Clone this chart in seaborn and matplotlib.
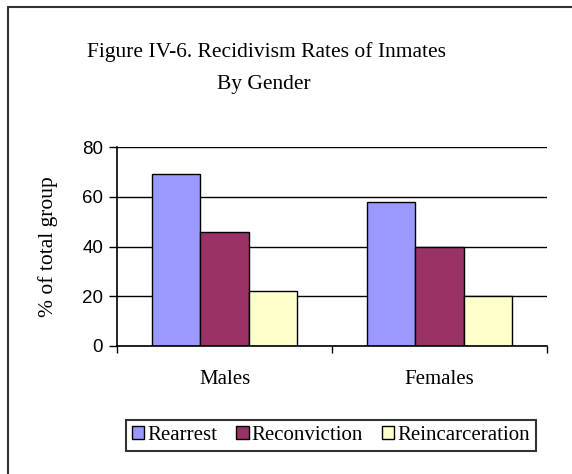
"""
Recidivism rates of inmates by gender - grouped bar chart.
"""

import pandas as pd
import matplotlib.pyplot as plt
import seaborn as sns
from matplotlib.lines import Line2D

genders = ["Males", "Females"]
measures = ["Rearrest", "Reconviction", "Reincarceration"]
rearrest = [69, 58]
reconviction = [46, 40]
reincarceration = [22, 20]
colors = ["#9999FF", "#993366", "#FFFFCC"]
y_ticks = [0, 20, 40, 60, 80]

SERIF = ["Liberation Serif", "DejaVu Serif"]
SANS = ["Liberation Sans", "DejaVu Sans"]


def make_chart():
    rows = []
    for name, vals in zip(measures, [rearrest, reconviction, reincarceration]):
        for g, v in zip(genders, vals):
            rows.append({"Gender": g, "Measure": name, "Percent": v})
    df = pd.DataFrame(rows)

    sns.set_style("white", {"text.color": "black", "axes.labelcolor": "black",
                            "xtick.color": "black", "ytick.color": "black"})
    fig = plt.figure(figsize=(5.72, 4.74), dpi=100)
    ax = fig.add_axes([117 / 572, 1 - 346 / 474, 430 / 572, 199 / 474])

    sns.barplot(data=df, x="Gender", y="Percent", hue="Measure", order=genders,
                hue_order=measures, palette=colors, width=0.67, gap=0,
                edgecolor="black", linewidth=1, saturation=1, ax=ax)

    ax.set_ylim(0, 80)
    ax.set_xlim(-0.5, 1.5)
    ax.set_yticks(y_ticks)
    ax.set_yticklabels([str(t) for t in y_ticks], fontfamily=SANS, fontsize=13.5)
    ax.yaxis.grid(True, color="black", linewidth=1)
    ax.set_axisbelow(True)
    ax.tick_params(axis="y", left=True, direction="out", length=6, width=1,
                   color="black", pad=4)

    ax.set_xticks([0, 1])
    ax.set_xticklabels(genders, fontfamily=SERIF, fontsize=15)
    ax.set_xticks([-0.5, 0.5, 1.5], minor=True)
    ax.tick_params(axis="x", which="major", bottom=True, length=0, pad=17)
    ax.tick_params(axis="x", which="minor", bottom=True, direction="out", length=5,
                   width=1, color="black")

    for side in ["top", "right"]:
        ax.spines[side].set_visible(False)
    for side in ["left", "bottom"]:
        ax.spines[side].set_color("black")
        ax.spines[side].set_linewidth(1.2)

    ax.set_xlabel("")
    ax.set_ylabel("% of total group", fontfamily=SERIF, fontsize=15.5, color="black")
    ax.yaxis.set_label_coords(-0.137, 0.5)

    ax.get_legend().remove()
    handles = [plt.Rectangle((0, 0), 1, 1, facecolor=c, edgecolor="black", linewidth=1)
               for c in colors]
    leg = fig.legend(handles, measures, loc="center", bbox_to_anchor=(331 / 572, 1 - 435.5 / 474),
                     ncol=3, frameon=True, fancybox=False, handlelength=0.6, handleheight=0.6,
                     handletextpad=0.15, columnspacing=0.9, borderpad=0.3,
                     prop={"family": SERIF, "size": 15})
    leg.get_frame().set_edgecolor("black")
    leg.get_frame().set_linewidth(1.5)

    fig.text(266.5 / 572, 1 - 52 / 474, "Figure IV-6. Recidivism Rates of Inmates",
             ha="center", va="center", fontfamily=SERIF, fontsize=15.5, color="black")
    fig.text(264 / 572, 1 - 85 / 474, "By Gender",
             ha="center", va="center", fontfamily=SERIF, fontsize=15.5, color="black")

    # outer chart border (left and top edges visible)
    fig.add_artist(Line2D([8 / 572, 8 / 572], [0, 1 - 7 / 474], transform=fig.transFigure,
                          color="#333333", linewidth=1.5))
    fig.add_artist(Line2D([8 / 572, 1], [1 - 7 / 474, 1 - 7 / 474], transform=fig.transFigure,
                          color="#333333", linewidth=1.5))

    fig.savefig("out.png", dpi=100)


if __name__ == "__main__":
    make_chart()
